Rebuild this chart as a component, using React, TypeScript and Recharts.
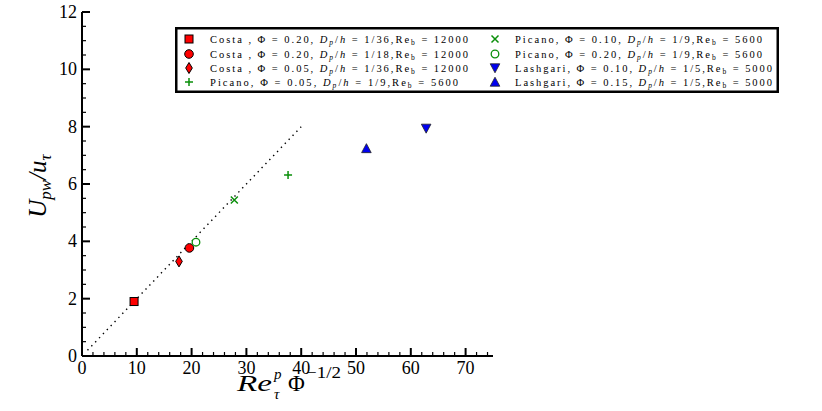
import React from 'react';
import { ComposedChart, Scatter, Line, XAxis, YAxis, Legend } from 'recharts';

const SERIF = '"Liberation Serif", "DejaVu Serif", serif';

// Data
const costaSq = [{ x: 9.5, y: 1.9 }];
const costaCircle = [{ x: 19.6, y: 3.77 }];
const costaDiamond = [{ x: 17.7, y: 3.3 }];
const picanoPlus = [{ x: 37.6, y: 6.31 }];
const picanoX = [{ x: 27.8, y: 5.44 }];
const picanoO = [{ x: 20.8, y: 3.97 }];
const lashDown = [{ x: 62.8, y: 7.94 }];
const lashUp = [{ x: 51.9, y: 7.24 }];
const fitLine = [{ x: 1, y: 0.2 }, { x: 40, y: 8 }];

const xTicks = [0, 2, 4, 6, 8, 10, 12, 14, 16, 18, 20, 22, 24, 26, 28, 30, 32, 34, 36, 38, 40, 42, 44, 46, 48, 50, 52, 54, 56, 58, 60, 62, 64, 66, 68, 70, 72, 74];
const yTicks = [0, 0.5, 1, 1.5, 2, 2.5, 3, 3.5, 4, 4.5, 5, 5.5, 6, 6.5, 7, 7.5, 8, 8.5, 9, 9.5, 10, 10.5, 11, 11.5, 12];

const legendAuthors = ['Costa ,', 'Costa ,', 'Costa ,', 'Picano,', 'Picano,', 'Picano,', 'Lashgari,', 'Lashgari,'];
const legendPhi = ['0.20', '0.20', '0.05', '0.05', '0.10', '0.20', '0.10', '0.15'];
const legendDp = ['1/36', '1/18', '1/36', '1/9', '1/9', '1/9', '1/5', '1/5'];
const legendRe = ['12000', '12000', '12000', '5600', '5600', '5600', '5000', '5000'];
const legendKeys = ['sq', 'circle', 'diamond', 'plus', 'x', 'o', 'down', 'up'];

const RED = '#ff0000';
const GREEN = '#0a8f0a';
const BLUE = '#0000f0';

const Marker = ({ kind, cx, cy }: { kind: string; cx: number; cy: number }) => {
  switch (kind) {
    case 'sq':
      return <rect x={cx - 4} y={cy - 4} width={8} height={8} fill={RED} stroke="#000" strokeWidth={1} />;
    case 'circle':
      return <circle cx={cx} cy={cy} r={4.3} fill={RED} stroke="#000" strokeWidth={1} />;
    case 'diamond':
      return <path d={`M${cx},${cy - 5.5} L${cx + 3.3},${cy} L${cx},${cy + 5.5} L${cx - 3.3},${cy} Z`} fill={RED} stroke="#000" strokeWidth={1} />;
    case 'plus':
      return <path d={`M${cx - 4},${cy} H${cx + 4} M${cx},${cy - 4} V${cy + 4}`} stroke={GREEN} strokeWidth={1.5} fill="none" />;
    case 'x':
      return <path d={`M${cx - 3.5},${cy - 3.5} L${cx + 3.5},${cy + 3.5} M${cx - 3.5},${cy + 3.5} L${cx + 3.5},${cy - 3.5}`} stroke={GREEN} strokeWidth={1.5} fill="none" />;
    case 'o':
      return <circle cx={cx} cy={cy} r={3.8} fill="#fff" stroke={GREEN} strokeWidth={1.3} />;
    case 'down':
      return <path d={`M${cx - 4.8},${cy - 4.2} L${cx + 4.8},${cy - 4.2} L${cx},${cy + 4.8} Z`} fill={BLUE} stroke="#222" strokeWidth={0.8} />;
    case 'up':
      return <path d={`M${cx - 4.8},${cy + 4.2} L${cx + 4.8},${cy + 4.2} L${cx},${cy - 4.8} Z`} fill={BLUE} stroke="#222" strokeWidth={0.8} />;
    default:
      return null;
  }
};

const shapeOf = (kind: string) => (props: any) => <Marker kind={kind} cx={props.cx} cy={props.cy} />;

const XTick = (props: any) => {
  const { x, y, payload } = props;
  const v = payload.value;
  const major = v % 10 === 0;
  return (
    <g>
      <line x1={x} x2={x} y1={y} y2={y - (major ? 8 : 4)} stroke="#000" strokeWidth={major ? 2 : 1.2} />
      {major && (
        <text x={x} y={y + 18} textAnchor="middle" fontSize={18} fontFamily={SERIF} fill="#000">
          {v}
        </text>
      )}
    </g>
  );
};

const YTick = (props: any) => {
  const { x, y, payload } = props;
  const v = payload.value;
  const major = v % 2 === 0;
  return (
    <g>
      <line x1={x} x2={x + (major ? 8 : 4)} y1={y} y2={y} stroke="#000" strokeWidth={major ? 2 : 1.2} />
      {major && (
        <text x={x - 5} y={y + 6} textAnchor="end" fontSize={18} fontFamily={SERIF} fill="#000">
          {v}
        </text>
      )}
    </g>
  );
};

const YLabel = () => (
  <text
    x={46}
    y={186}
    transform="rotate(-90, 46, 186)"
    textAnchor="middle"
    fontSize={25}
    fontFamily={SERIF}
    fontStyle="italic"
    fill="#000"
  >
    U<tspan dy={5} fontSize={17}>pw</tspan>
    <tspan dy={-5}>/u</tspan>
    <tspan dy={5} fontSize={17}>τ</tspan>
  </text>
);

const XLabel = () => (
  <g fontFamily={SERIF} fill="#000">
    <text x={237} y={391} fontSize={23} fontStyle="italic" textLength={35} lengthAdjust="spacingAndGlyphs">
      Re
    </text>
    <text x={274} y={379} fontSize={15} fontStyle="italic">
      p
    </text>
    <text x={274} y={399} fontSize={15} fontStyle="italic">
      τ
    </text>
    <text x={288} y={391} fontSize={23}>
      Φ
    </text>
    <text x={306} y={378} fontSize={16} textLength={35} lengthAdjust="spacingAndGlyphs">
      −1/2
    </text>
  </g>
);

// legend layout (relative to the legend box)
const LEG_LEFT = 175;
const LEG_TOP = 27;
const rowMarkerY = [12, 27, 41, 55];
const colMarkerX = [14, 320];
const colTextX = [35, 340];
const textLengths = [258, 258, 258, 248, 247, 247, 257, 257];

const LegendText = ({ i, x, y }: { i: number; x: number; y: number }) => (
  <text x={x} y={y} fontSize={10.5} fontFamily={SERIF} fill="#000" textLength={textLengths[i]} lengthAdjust="spacing" style={{ whiteSpace: 'pre' }}>
    {legendAuthors[i]} Φ = {legendPhi[i]}, <tspan fontStyle="italic">D</tspan>
    <tspan fontSize={7.5} fontStyle="italic" dy={2}>p</tspan>
    <tspan dy={-2}>/</tspan>
    <tspan fontStyle="italic">h</tspan> = {legendDp[i]},Re
    <tspan fontSize={7.5} dy={2}>b</tspan>
    <tspan dy={-2}> = {legendRe[i]}</tspan>
  </text>
);

const renderLegend = () => (
  <svg width={604} height={66} style={{ display: 'block', overflow: 'visible' }}>
    <rect x={1.25} y={1.25} width={601.5} height={63.5} fill="#fff" stroke="#000" strokeWidth={2.5} />
    {legendKeys.map((k, i) => {
      const col = i < 4 ? 0 : 1;
      const row = i % 4;
      return (
        <g key={k}>
          <Marker kind={k} cx={colMarkerX[col]} cy={rowMarkerY[row]} />
          <LegendText i={i} x={colTextX[col]} y={rowMarkerY[row] + 3.5} />
        </g>
      );
    })}
  </svg>
);

export default function App() {
  return (
    <div style={{ position: 'absolute', left: 0, top: 0, width: 822, height: 411, background: '#fff' }}>
      <ComposedChart width={822} height={411} margin={{ top: 12, right: 329, bottom: 0, left: 22 }}>
        <XAxis
          type="number"
          dataKey="x"
          domain={[0, 75]}
          ticks={xTicks}
          interval={0}
          tickSize={0}
          tickMargin={0}
          tickLine={false}
          tick={<XTick />}
          axisLine={{ stroke: '#000', strokeWidth: 2 }}
          height={55}
          allowDataOverflow
          label={<XLabel />}
        />
        <YAxis
          type="number"
          dataKey="y"
          domain={[0, 12]}
          ticks={yTicks}
          interval={0}
          tickSize={0}
          tickMargin={0}
          tickLine={false}
          tick={<YTick />}
          axisLine={{ stroke: '#000', strokeWidth: 2 }}
          width={60}
          allowDataOverflow
          label={<YLabel />}
        />
        <Line
          data={fitLine}
          dataKey="y"
          type="linear"
          stroke="#000"
          strokeWidth={1.4}
          strokeDasharray="1.4 4.2"
          dot={false}
          activeDot={false}
          isAnimationActive={false}
          legendType="none"
        />
        <Scatter data={costaSq} shape={shapeOf('sq')} isAnimationActive={false} />
        <Scatter data={costaCircle} shape={shapeOf('circle')} isAnimationActive={false} />
        <Scatter data={costaDiamond} shape={shapeOf('diamond')} isAnimationActive={false} />
        <Scatter data={picanoPlus} shape={shapeOf('plus')} isAnimationActive={false} />
        <Scatter data={picanoX} shape={shapeOf('x')} isAnimationActive={false} />
        <Scatter data={picanoO} shape={shapeOf('o')} isAnimationActive={false} />
        <Scatter data={lashDown} shape={shapeOf('down')} isAnimationActive={false} />
        <Scatter data={lashUp} shape={shapeOf('up')} isAnimationActive={false} />
        <Legend
          layout="horizontal"
          verticalAlign="middle"
          align="center"
          content={renderLegend}
          wrapperStyle={{ left: LEG_LEFT, top: LEG_TOP, width: 604, height: 66 }}
        />
      </ComposedChart>
    </div>
  );
}
